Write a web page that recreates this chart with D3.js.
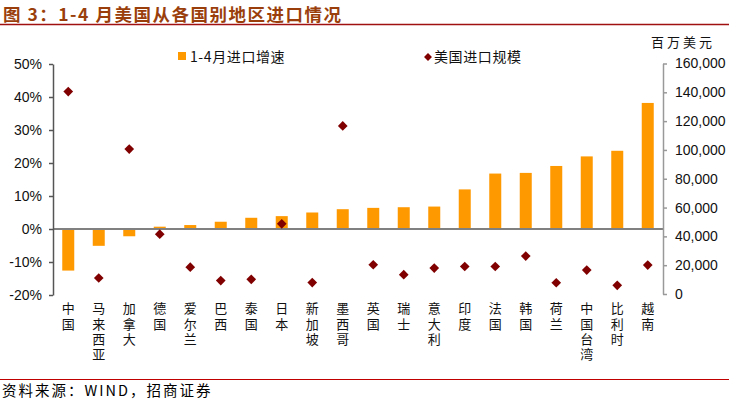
<!DOCTYPE html>
<html><head><meta charset="utf-8">
<script src="https://cdn.jsdelivr.net/npm/d3@7/dist/d3.min.js"></script>
<style>
body{margin:0;background:#fff;}
svg{display:block;}
text{font-family:"Liberation Sans",Arial,sans-serif;}
.cjk{font-family:"Noto Sans CJK SC","Noto Sans",sans-serif;}
.vert{writing-mode:vertical-rl;text-orientation:upright;}
</style></head>
<body>
<svg id="c" width="729" height="401"></svg>
<script>
const categories = ["中国","马来西亚","加拿大","德国","爱尔兰","巴西","泰国","日本","新加坡","墨西哥","英国","瑞士","意大利","印度","法国","韩国","荷兰","中国台湾","比利时","越南"];
const growth = [-12.6,-5.1,-2.2,0.7,1.2,2.2,3.4,3.9,5.0,6.0,6.4,6.6,6.8,12.0,16.8,17.0,19.1,22.0,23.7,38.2];
const scale = [140500,11100,100600,41500,18600,9300,10200,48700,7900,116700,20300,13400,18000,19100,19100,26300,7800,16600,6000,20100];
const leftTicks = [-20,-10,0,10,20,30,40,50];
const rightTicks = [0,20000,40000,60000,80000,100000,120000,140000,160000];
const seriesNames = ["1-4月进口增速","美国进口规模"];
const titleText = "图 3：1-4 月美国从各国别地区进口情况";
const sourceText = "资料来源：WIND，招商证券";
const unitText = "百万美元";

const svg = d3.select("#c");
const L = 53, R = 663, T = 64, B = 295;

const x = d3.scaleBand().domain(categories).range([L, R]).paddingInner(0.6).paddingOuter(0.3);
const yL = d3.scaleLinear().domain([-20, 50]).range([B, T]);
const yR = d3.scaleLinear().domain([0, 160000]).range([B - 1, T - 0.5]);

// title
svg.append("text").attr("class","cjk").attr("x",3).attr("y",20.5)
  .attr("font-size",17.5).attr("font-weight","bold").attr("letter-spacing",1.5)
  .attr("fill","#9A3F0C").text(titleText);
svg.append("line").attr("x1",0).attr("x2",729).attr("y1",24.5).attr("y2",24.5)
  .attr("stroke","#A01010").attr("stroke-width",1.3);

// bottom line + source
svg.append("line").attr("x1",0).attr("x2",729).attr("y1",379.5).attr("y2",379.5)
  .attr("stroke","#C00000").attr("stroke-width",1.2);
svg.append("text").attr("class","cjk").attr("x",2).attr("y",396).attr("font-size",14.5)
  .attr("letter-spacing",2).attr("fill","#000").text(sourceText);

// bars
svg.append("g").selectAll("rect").data(growth).join("rect")
  .attr("x",(d,i)=>x(categories[i]) + x.bandwidth()/2 - 6)
  .attr("width",12)
  .attr("y",d=>yL(Math.max(0,d)))
  .attr("height",d=>Math.abs(yL(d)-yL(0)))
  .attr("fill","#FF9900");

// zero line
svg.append("line").attr("x1",L).attr("x2",R).attr("y1",yL(0)).attr("y2",yL(0))
  .attr("stroke","#808080").attr("stroke-width",2);

// diamonds
const dsym = d3.symbol().type(d3.symbolDiamond2).size(60);
svg.append("g").selectAll("path").data(scale).join("path")
  .attr("d",dsym)
  .attr("transform",(d,i)=>`translate(${x(categories[i]) + x.bandwidth()/2},${yR(d)})`)
  .attr("fill","#800000");

// left axis
const gl = svg.append("g").attr("transform",`translate(${L},0)`)
  .call(d3.axisLeft(yL).tickValues(leftTicks).tickSize(4).tickSizeOuter(0).tickFormat(d=>d+"%"));
gl.select(".domain").attr("stroke","#555").attr("stroke-width",1.5);
gl.selectAll(".tick line").attr("stroke","#555").attr("stroke-width",1.5);
gl.selectAll(".tick text").attr("font-size",14).attr("fill","#111").attr("x",-11)
  .attr("font-family","Liberation Sans, Arial, sans-serif");

// right axis
const gr = svg.append("g").attr("transform",`translate(${R},0)`)
  .call(d3.axisRight(yR).tickValues(rightTicks).tickSize(4).tickSizeOuter(0).tickFormat(d3.format(",")));
gr.select(".domain").attr("stroke","#999").attr("stroke-width",1.5);
gr.selectAll(".tick line").attr("stroke","#999").attr("stroke-width",1.5);
gr.selectAll(".tick text").attr("font-size",14).attr("fill","#111").attr("x",12)
  .attr("font-family","Liberation Sans, Arial, sans-serif");

svg.append("text").attr("class","cjk").attr("x",651).attr("y",47).attr("font-size",13)
  .attr("letter-spacing",3).attr("fill","#111").text(unitText);

// category labels (vertical)
svg.append("g").selectAll("text").data(categories).join("text")
  .attr("class","cjk vert")
  .attr("x",c=>x(c) + x.bandwidth()/2)
  .attr("y",302)
  .attr("font-size",13)
  .attr("letter-spacing",2.3)
  .attr("fill","#111")
  .text(c=>c);

// legend
svg.append("rect").attr("x",178).attr("y",52).attr("width",8).attr("height",8).attr("fill","#FF9900");
svg.append("text").attr("class","cjk").attr("x",190).attr("y",62).attr("font-size",14)
  .attr("letter-spacing",0.6).attr("fill","#111").text(seriesNames[0]);
svg.append("path").attr("d",d3.symbol().type(d3.symbolDiamond2).size(40)).attr("transform","translate(428,57)").attr("fill","#800000");
svg.append("text").attr("class","cjk").attr("x",434).attr("y",62).attr("font-size",14)
  .attr("letter-spacing",0.6).attr("fill","#111").text(seriesNames[1]);
</script>
</body></html>
